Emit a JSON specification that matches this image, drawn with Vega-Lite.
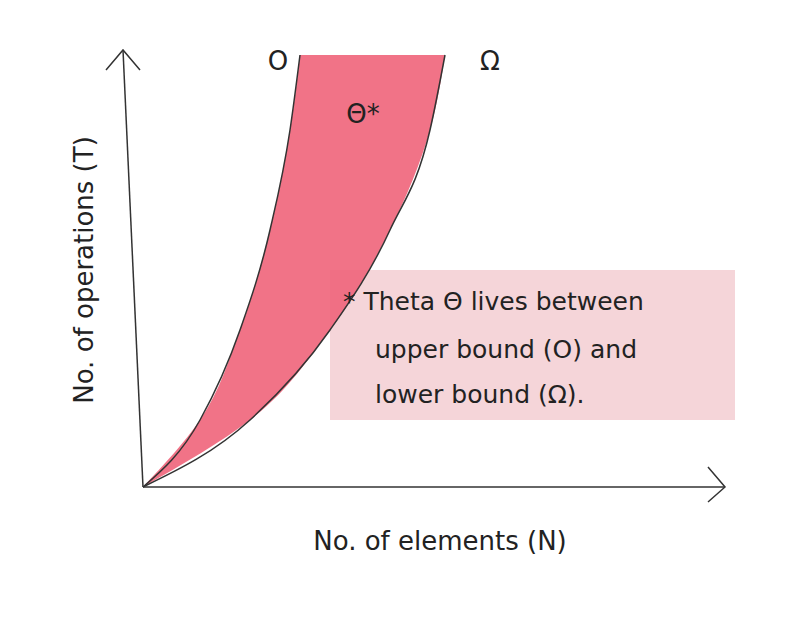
{
  "$schema": "https://vega.github.io/schema/vega-lite/v6.json",
  "width": 800,
  "height": 629,
  "autosize": {"type": "fit", "contains": "padding"},
  "padding": 0,
  "background": "#ffffff",
  "config": {"view": {"stroke": null}},
  "layer": [
    {
      "data": {"values": [{"x": 187, "x2": 592, "y": 217, "y2": 67}]},
      "mark": {"type": "rect", "color": "#f5d5d9"},
      "encoding": {
        "x": {"field": "x", "type": "quantitative", "scale": {"domain": [-143, 657]}, "axis": null},
        "x2": {"field": "x2"},
        "y": {"field": "y", "type": "quantitative", "scale": {"domain": [-142, 487]}, "axis": null},
        "y2": {"field": "y2"}
      }
    },
    {
      "data": {"values": [
        {"t": 0, "lo": 0, "hi": 0},
        {"t": 67, "lo": 57, "hi": 107},
        {"t": 157, "lo": 97, "hi": 187},
        {"t": 257, "lo": 127, "hi": 247},
        {"t": 357, "lo": 147, "hi": 287},
        {"t": 432, "lo": 157, "hi": 302}
      ]},
      "mark": {"type": "area", "orient": "horizontal", "interpolate": "monotone", "color": "#f0647a", "opacity": 0.9},
      "encoding": {
        "y": {"field": "t", "type": "quantitative", "scale": {"domain": [-142, 487]}, "axis": null},
        "x": {"field": "lo", "type": "quantitative", "scale": {"domain": [-143, 657]}, "axis": null},
        "x2": {"field": "hi"}
      }
    },
    {
      "data": {"values": [
        {"c": "O", "t": 0, "v": 0}, {"c": "O", "t": 67, "v": 57}, {"c": "O", "t": 157, "v": 97},
        {"c": "O", "t": 257, "v": 127}, {"c": "O", "t": 357, "v": 147}, {"c": "O", "t": 432, "v": 157},
        {"c": "W", "t": 0, "v": 0}, {"c": "W", "t": 67, "v": 107}, {"c": "W", "t": 157, "v": 187},
        {"c": "W", "t": 257, "v": 247}, {"c": "W", "t": 357, "v": 287}, {"c": "W", "t": 432, "v": 302}
      ]},
      "mark": {"type": "line", "orient": "horizontal", "interpolate": "monotone", "color": "#333333", "strokeWidth": 1.5},
      "encoding": {
        "y": {"field": "t", "type": "quantitative", "scale": {"domain": [-142, 487]}, "axis": null},
        "x": {"field": "v", "type": "quantitative", "scale": {"domain": [-143, 657]}, "axis": null},
        "detail": {"field": "c"},
        "order": {"field": "t"}
      }
    },
    {
      "data": {"values": [
        {"g": "xa", "i": 0, "x": 0, "y": 0}, {"g": "xa", "i": 1, "x": 582, "y": 0},
        {"g": "xh", "i": 0, "x": 565, "y": 20}, {"g": "xh", "i": 1, "x": 582, "y": 0}, {"g": "xh", "i": 2, "x": 565, "y": -15},
        {"g": "ya", "i": 0, "x": 0, "y": 0}, {"g": "ya", "i": 1, "x": -20, "y": 437},
        {"g": "yh", "i": 0, "x": -37, "y": 417}, {"g": "yh", "i": 1, "x": -20, "y": 437}, {"g": "yh", "i": 2, "x": -3, "y": 417}
      ]},
      "mark": {"type": "line", "color": "#333333", "strokeWidth": 1.5},
      "encoding": {
        "x": {"field": "x", "type": "quantitative", "scale": {"domain": [-143, 657]}, "axis": null},
        "y": {"field": "y", "type": "quantitative", "scale": {"domain": [-142, 487]}, "axis": null},
        "detail": {"field": "g"},
        "order": {"field": "i"}
      }
    },
    {
      "data": {"values": [
        {"x": 135, "y": 425, "s": "O"},
        {"x": 347, "y": 425, "s": "Ω"},
        {"x": 220, "y": 372, "s": "Θ*"},
        {"x": 297, "y": -55, "s": "No. of elements (N)"}
      ]},
      "mark": {"type": "text", "font": "DejaVu Sans", "fontSize": 26, "color": "#222222"},
      "encoding": {
        "x": {"field": "x", "type": "quantitative", "scale": {"domain": [-143, 657]}, "axis": null},
        "y": {"field": "y", "type": "quantitative", "scale": {"domain": [-142, 487]}, "axis": null},
        "text": {"field": "s"}
      }
    },
    {
      "data": {"values": [
        {"x": 200, "y": 185, "s": "* Theta Θ lives between"},
        {"x": 232, "y": 137, "s": "upper bound (O) and"},
        {"x": 232, "y": 92, "s": "lower bound (Ω)."}
      ]},
      "mark": {"type": "text", "align": "left", "font": "DejaVu Sans", "fontSize": 25, "color": "#222222"},
      "encoding": {
        "x": {"field": "x", "type": "quantitative", "scale": {"domain": [-143, 657]}, "axis": null},
        "y": {"field": "y", "type": "quantitative", "scale": {"domain": [-142, 487]}, "axis": null},
        "text": {"field": "s"}
      }
    },
    {
      "data": {"values": [{"x": -58, "y": 217, "s": "No. of operations (T)"}]},
      "mark": {"type": "text", "angle": 270, "font": "DejaVu Sans", "fontSize": 26, "color": "#222222"},
      "encoding": {
        "x": {"field": "x", "type": "quantitative", "scale": {"domain": [-143, 657]}, "axis": null},
        "y": {"field": "y", "type": "quantitative", "scale": {"domain": [-142, 487]}, "axis": null},
        "text": {"field": "s"}
      }
    }
  ]
}
